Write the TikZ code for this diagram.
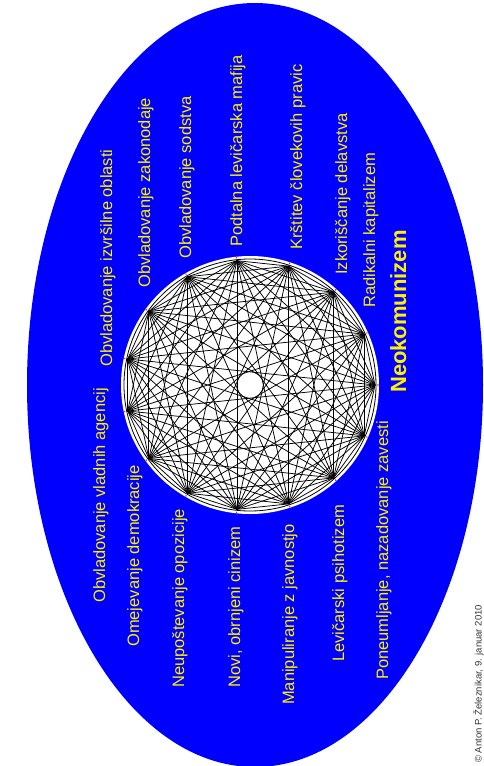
\documentclass[tikz,border=0pt]{standalone}
\usepackage{fontspec}
\setmainfont{Liberation Sans}
\usetikzlibrary{calc}

\begin{document}
\begin{tikzpicture}[x=1pt,y=-1pt]

\tikzset{edge1/.style = {line width=0.75pt,black}}
\tikzset{label1/.style = {rotate=90,anchor=base west,inner sep=0pt,text=yellow,font=\fontsize{16.5}{18}\selectfont}}
\tikzset{label2/.style = {label1,font=\fontsize{22}{24}\selectfont\bfseries}}
\tikzset{note/.style = {rotate=90,anchor=base west,inner sep=0pt,text=black!80,font=\fontsize{9.5}{10}\selectfont}}

\useasboundingbox (0,0) rectangle (484,766);

% ellipse and disc
\fill[blue] (255,385) ellipse [x radius=228pt, y radius=382pt];
\coordinate (c) at (250,385);
\fill[white] (c) circle (129pt);
\draw[line width=0.8pt] (c) circle (126pt);

% vertices
\foreach \i in {1,...,15}
  \coordinate (v\i) at ($(c)+(\i*24-24:125)$);

%edges
\foreach \i in {1,...,14} {
  \pgfmathtruncatemacro{\j}{\i+1}
  \foreach \k in {\j,...,15}
    \draw[edge1] (v\i) -- (v\k);
}
\foreach \i in {1,...,15}
  \fill[magenta] ($(c)+(\i*24-24:128)$) circle (0.8pt);

% labels above
\node[label1] (a1) at (112,367) {Obvladovanje izvršilne oblasti};
\node[label1] (a2) at (150,288) {Obvladovanje zakonodaje};
\node[label1] (a3) at (191,259) {Obvladovanje sodstva};
\node[label1] (a4) at (242,247) {Podtalna levičarska mafija};
\node[label1] (a5) at (302,250) {Krštitev človekovih pravic};
\node[label1] (a6) at (347,275) {Izkoriščanje delavstva};
\node[label1] (a7) at (375,308) {Radikalni kapitalizem};
\node[label2] (a8) at (406,393) {Neokomunizem};

% labels below
\node[label1] (b1) at (105,603) {Obvladovanje vladnih agencij};
\node[label1] (b2) at (139,647) {Omejevanje demokracije};
\node[label1] (b3) at (184,688) {Neupoštevanje opozicije};
\node[label1] (b4) at (240,688) {Novi, obrnjeni cinizem};
\node[label1] (b5) at (294,705) {Manipuliranje z javnostjo};
\node[label1] (b6) at (344,662) {Levičarski psihotizem};
\node[label1] (b7) at (388,680) {Poneumljanje, nazadovanje zavesti};

\node[note] (cr) at (481.5,763) {© Anton P. Železnikar, 9. januar 2010};

\end{tikzpicture}
\end{document}
